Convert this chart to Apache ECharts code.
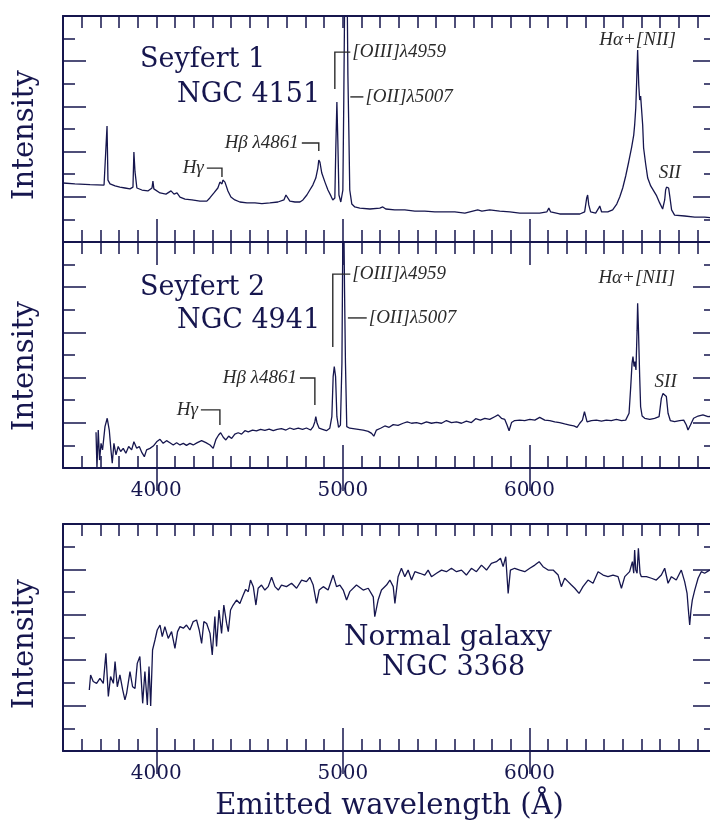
<!DOCTYPE html>
<html>
<head>
<meta charset="utf-8">
<script src="https://cdn.jsdelivr.net/npm/echarts@6/dist/echarts.min.js"></script>
<style>
  html, body { margin: 0; padding: 0; background: #ffffff; }
  #chart { width: 710px; height: 828px; }
</style>
</head>
<body>
<div id="chart"></div>
<script>
// Optical spectra of a Seyfert 1, a Seyfert 2 and a normal galaxy.
// Each spectrum: [wavelength (Å), relative intensity on a 0–10 panel scale].

const seyfert1 = [
  [3500,2.61],[3564,2.57],[3645,2.54],[3720,2.52],[3730,2.57],[3736,5.13],[3741,2.74],[3752,2.57],
  [3779,2.48],[3805,2.43],[3832,2.39],[3859,2.35],[3875,2.43],[3880,3.98],[3886,3.10],[3896,2.39],
  [3923,2.30],[3955,2.26],[3977,2.39],[3982,2.70],[3987,2.35],[4020,2.17],[4052,2.12],[4079,2.26],
  [4084,2.30],[4095,2.12],[4111,2.17],[4116,2.21],[4127,1.99],[4154,1.90],[4191,1.86],[4234,1.81],
  [4271,1.81],[4287,1.95],[4309,2.17],[4330,2.39],[4341,2.65],[4352,2.57],[4357,2.74],[4368,2.65],
  [4373,2.61],[4384,2.26],[4400,1.99],[4421,1.86],[4448,1.77],[4486,1.73],[4529,1.73],[4566,1.70],
  [4609,1.73],[4652,1.77],[4684,1.86],[4695,2.08],[4705,2.04],[4716,1.81],[4743,1.77],[4770,1.77],
  [4786,1.86],[4807,2.08],[4823,2.30],[4839,2.52],[4855,2.83],[4866,3.27],[4871,3.63],[4877,3.54],
  [4887,3.05],[4904,2.65],[4920,2.30],[4936,2.04],[4946,1.86],[4957,1.95],[4962,4.07],[4968,6.19],
  [4973,4.50],[4979,2.08],[4989,1.77],[5000,2.30],[5005,6.28],[5011,12.0],[5021,13.0],[5027,7.39],
  [5032,4.96],[5037,2.30],[5048,1.68],[5064,1.55],[5091,1.50],[5145,1.46],[5198,1.50],[5214,1.55],
  [5230,1.46],[5278,1.42],[5332,1.42],[5386,1.37],[5439,1.37],[5493,1.33],[5546,1.33],[5600,1.33],
  [5654,1.28],[5723,1.42],[5745,1.37],[5787,1.42],[5841,1.37],[5895,1.33],[5948,1.28],[6002,1.28],
  [6055,1.28],[6093,1.33],[6104,1.50],[6114,1.33],[6162,1.24],[6216,1.24],[6270,1.24],[6296,1.33],
  [6307,1.95],[6312,2.08],[6318,1.64],[6328,1.33],[6355,1.28],[6371,1.50],[6377,1.59],[6387,1.33],
  [6420,1.33],[6446,1.42],[6468,1.68],[6484,1.99],[6500,2.39],[6516,2.92],[6532,3.54],[6548,4.20],
  [6559,4.73],[6564,5.18],[6570,5.93],[6575,7.17],[6580,8.50],[6586,6.95],[6591,6.28],[6596,6.46],
  [6602,6.50],[6607,5.18],[6612,4.16],[6623,3.45],[6634,2.83],[6650,2.48],[6666,2.26],[6682,2.04],
  [6698,1.73],[6714,1.46],[6725,1.86],[6730,2.30],[6735,2.43],[6741,2.35],[6746,2.39],[6752,2.04],
  [6762,1.42],[6778,1.19],[6832,1.15],[6886,1.10],[6939,1.10],[6998,1.06]
];

const seyfert2 = [
  [3677,1.58],[3682,0.00],[3689,1.68],[3696,0.35],[3704,1.09],[3712,0.80],[3725,1.83],[3737,2.20],
  [3748,1.68],[3757,0.80],[3764,0.21],[3773,1.09],[3784,0.58],[3796,0.95],[3809,0.73],[3823,0.87],
  [3837,0.65],[3852,0.95],[3868,0.80],[3880,1.16],[3895,0.87],[3909,0.95],[3923,0.68],[3936,0.50],
  [3948,0.80],[3966,0.87],[3984,0.97],[4002,1.16],[4020,1.27],[4037,1.09],[4055,1.21],[4073,1.12],
  [4091,1.02],[4109,1.12],[4127,1.02],[4145,1.09],[4162,1.00],[4180,1.09],[4198,1.02],[4220,1.12],
  [4243,1.21],[4266,1.12],[4288,1.02],[4305,0.87],[4320,1.27],[4334,1.46],[4345,1.56],[4359,1.36],
  [4373,1.24],[4388,1.41],[4404,1.31],[4421,1.50],[4439,1.56],[4457,1.50],[4475,1.65],[4493,1.60],
  [4516,1.68],[4537,1.64],[4559,1.71],[4582,1.66],[4605,1.72],[4627,1.65],[4648,1.71],[4671,1.74],
  [4695,1.68],[4716,1.77],[4737,1.71],[4761,1.76],[4784,1.71],[4805,1.77],[4827,1.68],[4841,1.83],
  [4850,2.05],[4855,2.27],[4862,1.98],[4873,1.76],[4891,1.71],[4912,1.65],[4930,1.76],[4941,2.27],
  [4948,4.04],[4954,4.49],[4961,4.04],[4968,2.27],[4977,1.80],[4987,1.90],[4995,4.63],[5000,10.5],
  [5004,12.0],[5009,7.88],[5014,4.63],[5021,1.83],[5037,1.76],[5055,1.74],[5082,1.71],[5109,1.68],
  [5136,1.62],[5154,1.53],[5166,1.41],[5180,1.68],[5202,1.76],[5225,1.86],[5248,1.80],[5270,1.92],
  [5296,1.89],[5323,1.98],[5345,2.04],[5368,1.98],[5395,2.01],[5421,1.95],[5448,2.04],[5475,1.98],
  [5502,2.02],[5529,1.98],[5555,2.10],[5582,2.01],[5609,2.04],[5636,1.98],[5662,2.07],[5689,2.01],
  [5712,2.18],[5737,2.12],[5761,2.20],[5787,2.15],[5814,2.27],[5832,2.35],[5850,2.20],[5868,2.15],
  [5880,1.90],[5891,1.65],[5904,2.01],[5921,2.10],[5948,2.12],[5975,2.10],[6002,2.15],[6029,2.12],
  [6055,2.24],[6082,2.12],[6109,2.10],[6136,2.04],[6162,2.01],[6189,1.95],[6216,1.90],[6238,1.86],
  [6255,1.80],[6270,1.98],[6284,2.12],[6295,2.49],[6302,2.45],[6309,2.04],[6332,2.10],[6359,2.12],
  [6386,2.07],[6412,2.12],[6439,2.10],[6466,2.15],[6493,2.10],[6516,2.12],[6534,2.42],[6543,3.60],
  [6550,4.63],[6555,4.93],[6561,4.49],[6566,4.71],[6571,4.34],[6577,6.10],[6580,7.29],[6584,6.25],
  [6587,6.32],[6591,4.04],[6596,2.71],[6604,2.30],[6618,2.20],[6645,2.15],[6671,2.20],[6695,2.27],
  [6707,3.08],[6716,3.30],[6725,3.38],[6734,3.16],[6743,2.42],[6755,2.10],[6778,2.05],[6805,2.10],
  [6827,2.12],[6841,1.90],[6850,1.68],[6863,1.90],[6880,2.20],[6904,2.30],[6930,2.35],[6957,2.27],
  [6998,2.30]
];

const normalGalaxy = [
  [3641,2.69],[3648,3.35],[3662,3.06],[3680,2.98],[3698,3.20],[3716,2.98],[3730,4.30],[3743,2.40],
  [3755,3.28],[3770,2.98],[3779,3.94],[3791,2.83],[3805,3.35],[3820,2.69],[3832,2.25],[3841,2.54],
  [3859,3.50],[3873,2.83],[3886,2.76],[3898,3.86],[3912,4.16],[3927,2.10],[3939,3.50],[3952,2.03],
  [3961,3.72],[3970,1.98],[3980,4.45],[3993,4.89],[4005,5.33],[4020,5.55],[4032,5.04],[4046,5.48],
  [4064,4.96],[4082,5.26],[4100,4.52],[4114,5.26],[4127,5.48],[4145,5.41],[4162,5.55],[4180,5.33],
  [4198,5.70],[4216,5.77],[4230,5.33],[4243,4.74],[4255,5.70],[4270,5.62],[4288,5.18],[4300,4.23],
  [4314,5.92],[4323,4.60],[4336,6.21],[4350,5.18],[4362,6.43],[4377,5.62],[4386,5.26],[4398,6.21],
  [4412,6.43],[4430,6.65],[4448,6.50],[4466,6.87],[4479,7.12],[4493,7.02],[4505,7.53],[4520,7.24],
  [4534,6.43],[4546,7.17],[4564,7.31],[4582,7.09],[4600,7.24],[4618,7.65],[4636,7.24],[4654,7.09],
  [4671,7.31],[4698,7.24],[4725,7.39],[4752,7.17],[4779,7.53],[4805,7.46],[4823,7.65],[4841,7.31],
  [4859,6.50],[4873,7.09],[4895,7.24],[4921,7.09],[4948,7.75],[4966,7.24],[4984,7.31],[5002,7.09],
  [5020,6.65],[5037,7.02],[5073,7.31],[5109,7.09],[5136,7.17],[5163,6.79],[5171,5.92],[5189,6.65],
  [5207,7.09],[5234,7.31],[5252,7.53],[5270,7.24],[5279,6.50],[5296,7.68],[5314,8.05],[5332,7.68],
  [5350,7.97],[5368,7.53],[5386,7.90],[5412,7.83],[5439,7.75],[5457,7.97],[5475,7.68],[5502,7.83],
  [5529,7.97],[5555,7.90],[5582,8.05],[5609,7.90],[5636,7.97],[5662,7.75],[5689,8.05],[5716,7.90],
  [5743,8.19],[5770,7.97],[5796,8.27],[5823,8.34],[5845,8.49],[5859,8.12],[5873,8.56],[5886,6.94],
  [5898,7.97],[5921,8.05],[5948,7.97],[5975,7.90],[6002,8.05],[6029,8.19],[6052,8.34],[6073,8.12],
  [6100,7.97],[6127,7.97],[6154,7.75],[6171,7.24],[6189,7.61],[6207,7.46],[6225,7.31],[6243,7.17],
  [6266,6.94],[6287,7.24],[6314,7.53],[6341,7.39],[6368,7.90],[6395,7.75],[6421,7.68],[6448,7.75],
  [6475,7.68],[6493,7.17],[6511,7.68],[6537,7.90],[6552,8.34],[6559,7.83],[6564,8.85],[6570,7.97],
  [6577,7.83],[6584,8.93],[6587,9.00],[6593,7.83],[6600,7.68],[6627,7.68],[6654,7.61],[6680,7.53],
  [6707,7.75],[6725,8.05],[6743,7.39],[6761,7.68],[6787,7.53],[6814,7.97],[6832,7.46],[6845,6.94],
  [6852,6.21],[6859,5.55],[6866,6.21],[6873,6.65],[6886,7.09],[6904,7.61],[6921,7.90],[6939,7.83],
  [6966,7.97]
];

// Wavelength ticks (Å)
const minorTicks = [3600,3700,3800,3900,4000,4100,4200,4300,4400,4500,4600,4700,4800,4900,5000,
  5100,5200,5300,5400,5500,5600,5700,5800,5900,6000,6100,6200,6300,6400,6500,6600,6700,6800,6900];
const majorTicks = [4000,5000,6000];

// Line identifications, placed in wavelength / intensity units
const notesSeyfert1 = [
  { kind: 'hook',   text: 'Hγ',          x0: 4271, x1: 4352, bar: 3.27, tip: 2.88 },
  { kind: 'hook',   text: 'Hβ λ4861',    x0: 4780, x1: 4871, bar: 4.38, tip: 4.03 },
  { kind: 'corner', text: '[OIII]λ4959', x0: 4957, x1: 5040, bar: 8.40, tip: 6.77 },
  { kind: 'dash',   text: '[OII]λ5007',  x0: 5040, x1: 5110, bar: 6.42 },
  { kind: 'label',  text: 'Hα+[NII]',    x0: 6580, bar: 8.95 },
  { kind: 'label',  text: 'SII',         x0: 6752, bar: 3.05 }
];
const notesSeyfert2 = [
  { kind: 'hook',   text: 'Hγ',          x0: 4239, x1: 4341, bar: 2.57, tip: 1.90 },
  { kind: 'hook',   text: 'Hβ λ4861',    x0: 4770, x1: 4850, bar: 3.98, tip: 2.79 },
  { kind: 'corner', text: '[OIII]λ4959', x0: 4946, x1: 5040, bar: 8.58, tip: 5.35 },
  { kind: 'dash',   text: '[OII]λ5007',  x0: 5027, x1: 5128, bar: 6.64 },
  { kind: 'label',  text: 'Hα+[NII]',    x0: 6575, bar: 8.40 },
  { kind: 'label',  text: 'SII',         x0: 6730, bar: 3.80 }
];

const INK = '#16164e';
const NOTE_INK = '#2b2b2b';
const SERIF = '"DejaVu Serif", serif';
const NOTE_FONT = 'italic 19px "Liberation Serif", "Times New Roman", serif';

const grids = [
  { left: 63, top: 16,  width: 653, height: 226 },
  { left: 63, top: 242, width: 653, height: 226 },
  { left: 63, top: 524, width: 653, height: 227 }
];

const tickLine = { color: INK, width: 1.5 };

function xAxesFor(g, labelled, name) {
  const base = {
    gridIndex: g, type: 'value', min: 3500, max: 7000,
    splitLine: { show: false }, axisLabel: { show: false },
    axisLine: { show: true, onZero: false, lineStyle: { color: INK, width: 2 } }
  };
  const minorBottom = Object.assign({}, base, {
    position: 'bottom',
    axisTick: { show: true, inside: true, length: 12, customValues: minorTicks, lineStyle: tickLine }
  });
  if (labelled) {
    minorBottom.axisLabel = {
      show: true, customValues: majorTicks, margin: 13,
      fontFamily: SERIF, fontSize: 20, color: INK,
      formatter: function (v) { return String(v); }
    };
  }
  if (name) {
    minorBottom.name = name;
    minorBottom.nameLocation = 'middle';
    minorBottom.nameGap = 41;
    minorBottom.nameTextStyle = { fontFamily: SERIF, fontSize: 29, color: INK };
  }
  const majorBottom = Object.assign({}, base, {
    position: 'bottom', axisLine: { show: false },
    axisTick: { show: true, inside: true, length: 23, customValues: majorTicks, lineStyle: tickLine }
  });
  const minorTop = Object.assign({}, base, {
    position: 'top',
    axisTick: { show: true, inside: true, length: 12, customValues: minorTicks, lineStyle: tickLine }
  });
  const majorTop = Object.assign({}, base, {
    position: 'top', axisLine: { show: false },
    axisTick: { show: true, inside: true, length: 23, customValues: majorTicks, lineStyle: tickLine }
  });
  return [minorBottom, majorBottom, minorTop, majorTop];
}

function yAxesFor(g) {
  const base = {
    gridIndex: g, type: 'value', min: 0, max: 10, interval: 2,
    splitLine: { show: false }, axisLabel: { show: false },
    axisLine: { show: true, onZero: false, lineStyle: { color: INK, width: 2 } },
    axisTick: { show: true, inside: true, length: 23, lineStyle: tickLine },
    minorTick: { show: true, splitNumber: 2, length: 12, lineStyle: tickLine }
  };
  return [
    Object.assign({}, base, { position: 'left' }),
    Object.assign({}, base, { position: 'right' })
  ];
}

function spectrum(g, data) {
  return {
    type: 'line', xAxisIndex: 4 * g, yAxisIndex: 2 * g, data: data,
    showSymbol: false, symbol: 'none', clip: true, animation: false, silent: true,
    lineStyle: { color: INK, width: 1.3 }
  };
}

function textEl(x, y, text, align) {
  return {
    type: 'text',
    style: {
      text: text, x: x, y: y, font: NOTE_FONT, fill: NOTE_INK,
      align: align, verticalAlign: 'middle', textAlign: align, textVerticalAlign: 'middle'
    }
  };
}
function lineEl(points) {
  return {
    type: 'polyline',
    shape: { points: points },
    style: { stroke: NOTE_INK, lineWidth: 1.4, fill: null }
  };
}

function notesSeries(g, notes) {
  return {
    type: 'custom', xAxisIndex: 4 * g, yAxisIndex: 2 * g, silent: true, animation: false,
    clip: false, z: 4,
    data: notes.map(function (n, i) { return [n.x0, n.bar, i]; }),
    renderItem: function (params, api) {
      const n = notes[params.dataIndex];
      const kids = [];
      if (n.kind === 'hook') {
        const a = api.coord([n.x0, n.bar]), b = api.coord([n.x1, n.bar]), c = api.coord([n.x1, n.tip]);
        kids.push(lineEl([a, b, c]));
        kids.push(textEl(a[0] - 3, a[1], n.text, 'right'));
      } else if (n.kind === 'corner') {
        const c = api.coord([n.x0, n.tip]), a = api.coord([n.x0, n.bar]), b = api.coord([n.x1, n.bar]);
        kids.push(lineEl([c, a, b]));
        kids.push(textEl(b[0] + 2, b[1], n.text, 'left'));
      } else if (n.kind === 'dash') {
        const a = api.coord([n.x0, n.bar]), b = api.coord([n.x1, n.bar]);
        kids.push(lineEl([a, b]));
        kids.push(textEl(b[0] + 2, b[1], n.text, 'left'));
      } else {
        const p = api.coord([n.x0, n.bar]);
        kids.push(textEl(p[0], p[1], n.text, 'center'));
      }
      return { type: 'group', children: kids };
    }
  };
}

function titleText(x, y, text, size) {
  return {
    type: 'text', x: x, y: y, silent: true,
    style: {
      text: text, font: size + 'px ' + SERIF, fill: INK,
      align: 'left', verticalAlign: 'middle', textAlign: 'left', textVerticalAlign: 'middle'
    }
  };
}
function intensityText(y) {
  return {
    type: 'text', x: 25, y: y, rotation: Math.PI / 2, silent: true,
    style: {
      text: 'Intensity', font: '29px ' + SERIF, fill: INK,
      align: 'center', verticalAlign: 'middle', textAlign: 'center', textVerticalAlign: 'middle'
    }
  };
}

const chart = echarts.init(document.getElementById('chart'), null, { renderer: 'canvas' });
chart.setOption({
  backgroundColor: '#ffffff',
  animation: false,
  grid: grids.map(function (g) { return Object.assign({ outerBoundsMode: 'none', containLabel: false }, g); }),
  xAxis: [].concat(
    xAxesFor(0, false, null),
    xAxesFor(1, true, null),
    xAxesFor(2, true, 'Emitted wavelength (Å)')
  ),
  yAxis: [].concat(yAxesFor(0), yAxesFor(1), yAxesFor(2)),
  series: [
    spectrum(0, seyfert1),
    spectrum(1, seyfert2),
    spectrum(2, normalGalaxy),
    notesSeries(0, notesSeyfert1),
    notesSeries(1, notesSeyfert2)
  ],
  graphic: [
    titleText(140, 60, 'Seyfert 1', 27),
    titleText(177, 95, 'NGC 4151', 27),
    titleText(140, 288, 'Seyfert 2', 27),
    titleText(177, 321, 'NGC 4941', 27),
    titleText(344, 638, 'Normal galaxy', 28),
    titleText(382, 668, 'NGC 3368', 27),
    intensityText(135),
    intensityText(366),
    intensityText(644)
  ]
});
</script>
</body>
</html>
